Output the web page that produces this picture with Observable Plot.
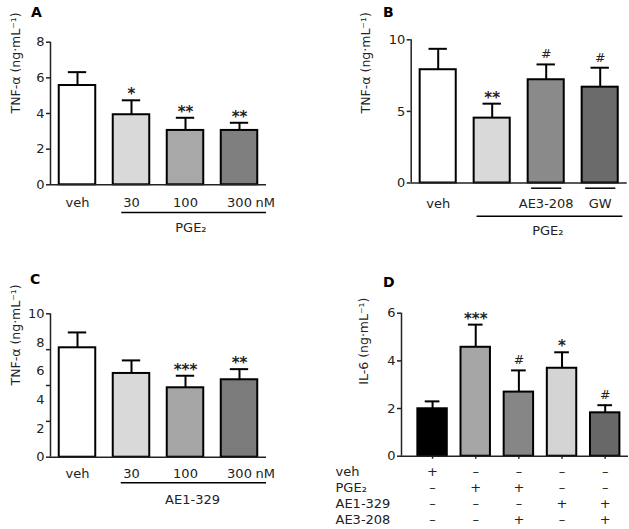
<!DOCTYPE html>
<html>
<head>
<meta charset="utf-8">
<script src="https://cdn.jsdelivr.net/npm/d3@7"></script>
<script src="https://cdn.jsdelivr.net/npm/@observablehq/plot@0.6"></script>
<style>
  body { margin: 0; background: #fff; }
  #root { position: relative; width: 629px; height: 529px; overflow: hidden; background: #fff; }
  .letter { position: absolute; font-family: "DejaVu Sans", sans-serif; font-weight: bold; font-size: 14px; line-height: 1; color: #000; }
</style>
</head>
<body>
<div id="root"></div>
<script>
// ---------- Panel A : TNF-α vs PGE2 ----------
const aLabels = ["veh", "30", "100", "300"];
const aUnit = "nM";
const aMean = [5.57, 3.93, 3.05, 3.05];
const aSem = [0.75, 0.81, 0.71, 0.43];
const aSig = ["", "*", "**", "**"];
const aFill = ["#ffffff", "#d9d9d9", "#a8a8a8", "#7f7f7f"];
const aYTicks = [0, 2, 4, 6, 8];
const aGroup = "PGE₂";
const aYLabel = "TNF-α (ng·mL⁻¹)";

// ---------- Panel B : TNF-α, PGE2 + antagonists ----------
const bLabels = ["veh", "", "AE3-208", "GW"];
const bMean = [7.91, 4.53, 7.21, 6.69];
const bSem = [1.46, 1.01, 1.07, 1.36];
const bSig = ["", "**", "#", "#"];
const bFill = ["#ffffff", "#d9d9d9", "#8a8a8a", "#6b6b6b"];
const bYTicks = [0, 5, 10];
const bGroup = "PGE₂";
const bYLabel = "TNF-α (ng·mL⁻¹)";

// ---------- Panel C : TNF-α vs AE1-329 ----------
const cLabels = ["veh", "30", "100", "300"];
const cUnit = "nM";
const cMean = [7.63, 5.84, 4.84, 5.40];
const cSem = [1.07, 0.91, 0.84, 0.74];
const cSig = ["", "", "***", "**"];
const cFill = ["#ffffff", "#d9d9d9", "#a6a6a6", "#7b7b7b"];
const cYTicks = [0, 2, 4, 6, 8, 10];
const cYTickMarks = [0, 2.5, 5, 7.5, 10];
const cGroup = "AE1-329";
const cYLabel = "TNF-α (ng·mL⁻¹)";

// ---------- Panel D : IL-6 ----------
const dMean = [1.99, 4.57, 2.69, 3.69, 1.82];
const dSem = [0.31, 0.95, 0.91, 0.67, 0.32];
const dSig = ["", "***", "#", "*", "#"];
const dFill = ["#000000", "#a6a6a6", "#868686", "#d4d4d4", "#686868"];
const dYTicks = [0, 2, 4, 6];
const dRowNames = ["veh", "PGE₂", "AE1-329", "AE3-208"];
const dVeh   = ["+", "–", "–", "–", "–"];
const dPGE2  = ["–", "+", "+", "–", "–"];
const dAE1   = ["–", "–", "–", "+", "+"];
const dAE3   = ["–", "–", "+", "–", "+"];
const dYLabel = "IL-6 (ng·mL⁻¹)";

// ---------- helpers ----------
const FONT = "DejaVu Sans, sans-serif";
const INK = "#222";
const FS = 13;
const LFS = 12.5;
const fmt = d => String(d);

function rows(mean, sem, sig, fill) {
  return mean.map((v, i) => ({ i, v, top: v + sem[i], sig: sig[i], fill: fill[i] }));
}

function bars(data, half, cap) {
  return [
    Plot.ruleX(data, { x: "i", y1: "v", y2: "top", stroke: "#000", strokeWidth: 2 }),
    Plot.ruleY(data, { y: "top", x1: d => d.i - cap, x2: d => d.i + cap, stroke: "#000", strokeWidth: 2 }),
    Plot.rect(data, { x1: d => d.i - half, x2: d => d.i + half, y1: 0, y2: "v", fill: "fill", stroke: "#000", strokeWidth: 2 })
  ];
}

function sigMarks(data) {
  return [
    Plot.text(data.filter(d => d.sig.includes("*")), { x: "i", y: "top", text: "sig", lineAnchor: "bottom", dy: -1, fontSize: 15, fontWeight: "bold", fill: INK }),
    Plot.text(data.filter(d => d.sig.includes("#")), { x: "i", y: "top", text: "sig", lineAnchor: "bottom", dy: -6, fontSize: 12.5, fill: INK })
  ];
}

function axesFrame(xDomain, yMax) {
  return [
    Plot.ruleY([0], { stroke: INK, strokeWidth: 1.5 }),
    Plot.ruleX([xDomain[0]], { y1: 0, y2: yMax, stroke: INK, strokeWidth: 1.5 })
  ];
}

function yLabelMark(label, dx, dy = 0) {
  return Plot.text([label], { text: d => d, frameAnchor: "left", rotate: -90, dx, dy, fontSize: LFS, fill: INK });
}

const root = document.getElementById("root");
function place(el, left, top) {
  el.style.position = "absolute";
  el.style.left = left + "px";
  el.style.top = top + "px";
  root.append(el);
}
function letter(t, left, top) {
  const d = document.createElement("div");
  d.className = "letter";
  d.textContent = t;
  d.style.left = left + "px";
  d.style.top = top + "px";
  root.append(d);
}
const baseStyle = { fontFamily: FONT, color: INK, background: "transparent", overflow: "visible" };

// ---------- Panel A ----------
{
  const data = rows(aMean, aSem, aSig, aFill);
  const xDomain = [-0.5, 3.5];
  const p = Plot.plot({
    width: 315, height: 265,
    marginLeft: 50, marginRight: 49, marginTop: 41.7, marginBottom: 80.7,
    x: { domain: xDomain },
    y: { domain: [0, 8] },
    color: { type: "identity" },
    style: baseStyle,
    marks: [
      Plot.axisY({ ticks: aYTicks, tickFormat: fmt, tickSize: 4, tickPadding: 2, fontSize: FS, label: null, strokeWidth: 1.5 }),
      Plot.axisX({ ticks: aLabels.map((_, i) => i), tickFormat: i => aLabels[i], tickSize: 0, tickPadding: 13, fontSize: FS, label: null }),
      Plot.text([aUnit], { x: aLabels.length - 1, y: 0, text: d => d, dx: 16, dy: 13, lineAnchor: "top", textAnchor: "start", fontSize: FS, fill: INK }),
      Plot.ruleY([0], { x1: 0.82, x2: xDomain[1], dy: 27.7, stroke: "#000", strokeWidth: 1.5 }),
      Plot.text([aGroup], { x: 2.1, y: 0, text: d => d, dy: 43.5, fontSize: FS, fill: INK }),
      ...bars(data, 0.338, 0.17),
      ...axesFrame(xDomain, 8),
      ...sigMarks(data),
      yLabelMark(aYLabel, -35)
    ]
  });
  place(p, 0, 0);
  letter("A", 31, 5);
}

// ---------- Panel B ----------
{
  const data = rows(bMean, bSem, bSig, bFill);
  const xDomain = [-0.5, 3.5];
  const under = bLabels.map((l, i) => ({ i, l })).filter(d => d.i > 0 && d.l);
  const p = Plot.plot({
    width: 314, height: 265,
    marginLeft: 95.7, marginRight: 2.3, marginTop: 39.3, marginBottom: 82.5,
    x: { domain: xDomain },
    y: { domain: [0, 10] },
    color: { type: "identity" },
    style: baseStyle,
    marks: [
      Plot.axisY({ ticks: bYTicks, tickFormat: fmt, tickSize: 4, tickPadding: 2, fontSize: FS, label: null, strokeWidth: 1.5 }),
      Plot.axisX({ ticks: bLabels.map((_, i) => i), tickFormat: i => bLabels[i], tickSize: 0, tickPadding: 15.8, fontSize: FS, label: null }),
      Plot.ruleY(under, { y: 0, x1: d => d.i - 0.27, x2: d => d.i + 0.29, dy: 5.2, stroke: "#000", strokeWidth: 1.5 }),
      Plot.ruleY([0], { x1: 0.72, x2: 3.42, dy: 33.2, stroke: "#000", strokeWidth: 1.5 }),
      Plot.text([bGroup], { x: 2.03, y: 0, text: d => d, dy: 47.5, fontSize: FS, fill: INK }),
      ...bars(data, 0.334, 0.17),
      ...axesFrame(xDomain, 10),
      ...sigMarks(data),
      yLabelMark(bYLabel, -45.7, 2)
    ]
  });
  place(p, 315, 0);
  letter("B", 383, 5);
}

// ---------- Panel C ----------
{
  const data = rows(cMean, cSem, cSig, cFill);
  const xDomain = [-0.5, 3.5];
  const p = Plot.plot({
    width: 315, height: 264,
    marginLeft: 50, marginRight: 49, marginTop: 48.3, marginBottom: 72.3,
    x: { domain: xDomain },
    y: { domain: [0, 10] },
    color: { type: "identity" },
    style: baseStyle,
    marks: [
      Plot.axisY({ ticks: cYTickMarks, tickFormat: () => "", tickSize: 4, tickPadding: 2, label: null, strokeWidth: 1.5 }),
      Plot.axisY({ ticks: cYTicks, tickFormat: fmt, tickSize: 0, tickPadding: 6, fontSize: FS, label: null }),
      Plot.axisX({ ticks: cLabels.map((_, i) => i), tickFormat: i => cLabels[i], tickSize: 0, tickPadding: 11.6, fontSize: FS, label: null }),
      Plot.text([cUnit], { x: cLabels.length - 1, y: 0, text: d => d, dx: 16, dy: 11.6, lineAnchor: "top", textAnchor: "start", fontSize: FS, fill: INK }),
      Plot.ruleY([0], { x1: 0.81, x2: xDomain[1], dy: 25.6, stroke: "#000", strokeWidth: 1.5 }),
      Plot.text([cGroup], { x: 2.13, y: 0, text: d => d, dy: 42.6, fontSize: FS, fill: INK }),
      ...bars(data, 0.338, 0.17),
      ...axesFrame(xDomain, 10),
      ...sigMarks(data),
      yLabelMark(cYLabel, -35)
    ]
  });
  place(p, 0, 265);
  letter("C", 30, 272);
}

// ---------- Panel D ----------
{
  const data = rows(dMean, dSem, dSig, dFill);
  const xDomain = [-0.72, 4.54];
  const signRows = [dVeh, dPGE2, dAE1, dAE3];
  const rowDy = [15.8, 31.8, 47.8, 63.8];
  const signMarks = signRows.flatMap((signs, r) => [
    Plot.text(signs.map((s, i) => ({ i, s })), { x: "i", y: 0, text: "s", dy: rowDy[r], fontSize: FS, fill: INK }),
    Plot.text([dRowNames[r]], { x: xDomain[0], y: 0, text: d => d, dx: -66, dy: rowDy[r], textAnchor: "start", fontSize: FS, fill: INK })
  ]);
  const p = Plot.plot({
    width: 314, height: 264,
    marginLeft: 86, marginRight: 1, marginTop: 47.7, marginBottom: 73.3,
    x: { domain: xDomain },
    y: { domain: [0, 6] },
    color: { type: "identity" },
    style: baseStyle,
    marks: [
      Plot.axisY({ ticks: dYTicks, tickFormat: fmt, tickSize: 4, tickPadding: 2, fontSize: FS, label: null, strokeWidth: 1.5 }),
      Plot.axisX({ ticks: dMean.map((_, i) => i), tickFormat: () => "", tickSize: 3, label: null, strokeWidth: 1.5 }),
      ...bars(data, 0.341, 0.17),
      ...axesFrame(xDomain, 6),
      ...sigMarks(data),
      ...signMarks,
      yLabelMark(dYLabel, -37.7)
    ]
  });
  place(p, 315, 265);
  letter("D", 383, 275);
}
</script>
</body>
</html>
